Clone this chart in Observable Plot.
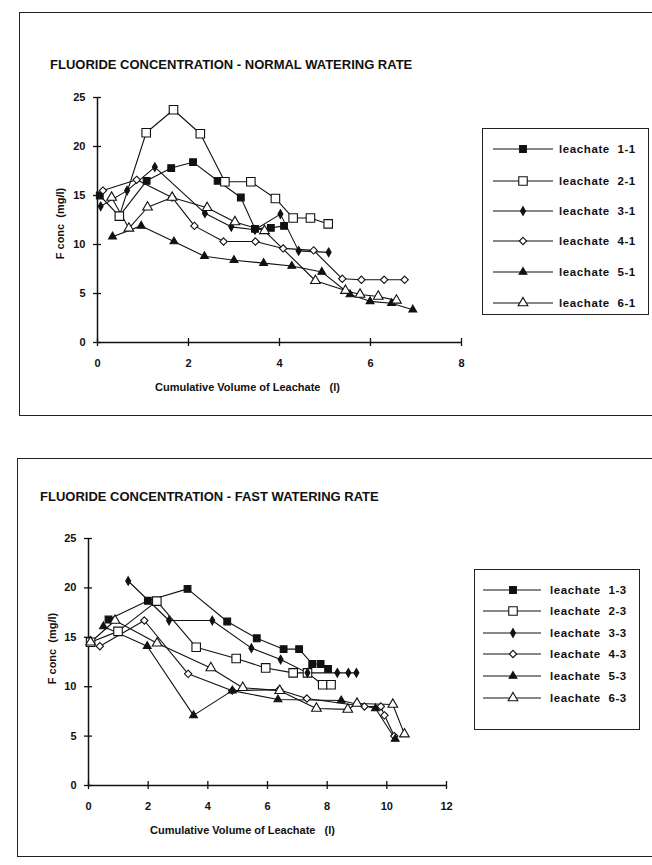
<!DOCTYPE html>
<html><head><meta charset="utf-8">
<script src="https://cdn.jsdelivr.net/npm/d3@7"></script>
<script src="https://cdn.jsdelivr.net/npm/@observablehq/plot@0.6"></script>
<style>
body{margin:0;background:#fff;}
#page{position:relative;width:652px;height:865px;overflow:hidden;font-family:"Liberation Sans",Arial,Helvetica,sans-serif;font-weight:bold;color:#111;}
.frame{position:absolute;border:1.3px solid #222;border-right:none;}
.title{position:absolute;font-size:13px;white-space:nowrap;line-height:1;}
.lab{position:absolute;font-size:11px;white-space:pre;line-height:1;}
.legend{position:absolute;border:1.3px solid #222;background:#fff;}
.chart{position:absolute;left:0;top:0;}
</style></head><body><div id="page"></div>
<script>
// ---------- DATA: normal watering rate ----------
const normalNames = ["leachate  1-1","leachate  2-1","leachate  3-1","leachate  4-1","leachate  5-1","leachate  6-1"];
const n11x = [0.05,0.48,1.08,1.62,2.10,2.64,3.15,3.46,3.81,4.10];
const n11y = [15.0,12.9,16.5,17.8,18.4,16.5,14.8,11.6,11.7,11.9];
const n21x = [0.48,1.07,1.67,2.26,2.80,3.37,3.91,4.30,4.68,5.07];
const n21y = [12.9,21.4,23.75,21.3,16.4,16.4,14.7,12.7,12.7,12.1];
const n31x = [0.07,0.65,1.26,2.36,2.94,3.46,4.02,4.42,5.08];
const n31y = [13.9,15.5,17.9,13.2,11.8,11.5,13.1,9.35,9.2];
const n41x = [0.12,0.86,1.64,2.13,2.77,3.47,4.08,4.75,5.38,5.80,6.30,6.75];
const n41y = [15.5,16.6,14.8,11.9,10.3,10.3,9.6,9.4,6.5,6.4,6.4,6.4];
const n51x = [0.33,0.96,1.68,2.35,3.00,3.65,4.27,4.93,5.55,5.99,6.46,6.93];
const n51y = [10.8,11.9,10.3,8.8,8.4,8.1,7.8,7.2,4.9,4.2,4.0,3.35];
const n61x = [0.31,0.69,1.10,1.64,2.41,3.02,3.67,4.79,5.45,5.77,6.17,6.57];
const n61y = [14.8,11.65,13.8,14.8,13.75,12.3,11.4,6.3,5.3,4.9,4.7,4.3];
const normalXTicks = [0,2,4,6,8];
const normalYTicks = [0,5,10,15,20,25];

// ---------- DATA: fast watering rate ----------
const fastNames = ["leachate  1-3","leachate  2-3","leachate  3-3","leachate  4-3","leachate  5-3","leachate  6-3"];
const f13x = [0.67,1.99,3.32,4.65,5.64,6.54,7.06,7.50,7.78,8.03];
const f13y = [16.8,18.7,19.9,16.6,14.9,13.8,13.8,12.3,12.3,11.8];
const f23x = [0.07,0.99,2.29,3.61,4.95,5.94,6.86,7.34,7.85,8.13];
const f23y = [14.5,15.6,18.66,14.0,12.85,11.9,11.4,11.4,10.2,10.2];
const f33x = [1.33,2.70,4.15,5.46,6.44,7.34,8.34,8.71,8.98];
const f33y = [20.7,16.7,16.7,13.9,12.75,11.4,11.4,11.4,11.4];
const f43x = [0.38,1.87,3.34,4.82,6.39,7.32,9.25,9.80,9.92,10.25];
const f43y = [14.1,16.7,11.3,9.6,9.7,8.8,8.0,8.0,7.1,5.0];
const f53x = [0.50,1.97,3.52,4.82,6.35,8.47,9.62,10.28];
const f53y = [16.1,14.1,7.1,9.6,8.7,8.6,7.8,4.7];
const f63x = [0.07,0.89,2.30,4.10,5.17,6.41,7.64,8.69,9.00,10.20,10.59];
const f63y = [14.5,16.7,14.4,11.9,9.9,9.6,7.8,7.7,8.3,8.2,5.2];
const fastXTicks = [0,2,4,6,8,10,12];
const fastYTicks = [0,5,10,15,20,25];

// ---------- marker styles (per series position) ----------
const markerStyles = [
  {symbol:"square",  r:3.8, fill:"#111"},
  {symbol:"square",  r:4.8, fill:"#fff"},
  {symbol:"diamond", r:2.6, fill:"#111"},
  {symbol:"diamond2",r:3.3, fill:"#fff"},
  {symbol:"triangle",r:2.9, fill:"#111"},
  {symbol:"triangle",r:3.6, fill:"#fff"}
];

function rowsOf(name, xs, ys){ return xs.map((x,i)=>({series:name, x, y:ys[i]})); }

const normalSeries = [[n11x,n11y],[n21x,n21y],[n31x,n31y],[n41x,n41y],[n51x,n51y],[n61x,n61y]]
  .map((p,i)=>({name:normalNames[i], rows:rowsOf(normalNames[i],p[0],p[1]), ...markerStyles[i]}));
const fastSeries = [[f13x,f13y],[f23x,f23y],[f33x,f33y],[f43x,f43y],[f53x,f53y],[f63x,f63y]]
  .map((p,i)=>({name:fastNames[i], rows:rowsOf(fastNames[i],p[0],p[1]), ...markerStyles[i]}));

const page = document.getElementById("page");
function el(cls, css, text){
  const d = document.createElement("div"); d.className = cls;
  Object.assign(d.style, css); if (text!=null) d.textContent = text;
  page.appendChild(d); return d;
}

function makeChart(c){
  const marks = [];
  c.series.forEach(s => marks.push(Plot.line(s.rows, {x:"x", y:"y", stroke:"#111", strokeWidth:1.1})));
  marks.push(Plot.ruleY([0], {stroke:"#111", strokeWidth:1.5}));
  marks.push(Plot.ruleX([0], {stroke:"#111", strokeWidth:1.5}));
  marks.push(Plot.axisX({ticks:c.xTicks, tickSize:8, dy:-4, tickPadding:13, stroke:"#111", strokeWidth:1.3}));
  marks.push(Plot.axisY({ticks:c.yTicks, tickSize:8, dx:4, tickPadding:8, stroke:"#111", strokeWidth:1.3}));
  c.series.forEach(s => marks.push(Plot.dot(s.rows, {x:"x", y:"y", symbol:s.symbol, r:s.r, fill:s.fill, stroke:"#111", strokeWidth:1.1})));
  const svg = Plot.plot({
    width:652, height:c.height,
    marginLeft:c.left, marginRight:652-c.right, marginTop:c.top, marginBottom:c.height-c.bottom,
    x:{domain:c.xDomain, label:null},
    y:{domain:[0,25], label:null},
    style:{fontFamily:'"Liberation Sans",Arial,sans-serif', fontSize:"11px", fontWeight:"bold", background:"transparent", color:"#111", overflow:"visible"},
    marks
  });
  svg.classList.add("chart");
  svg.style.top = c.offsetTop + "px";
  page.appendChild(svg);
}

function makeLegend(series, box, rowY, lineX1, lineX2, markX, textX){
  const lg = el("legend", {left:box.left+"px", top:box.top+"px", width:box.width+"px", height:box.height+"px"});
  series.forEach((s,i)=>{
    const svg = d3.create("svg").attr("width", box.width).attr("height", 16)
      .style("position","absolute").style("left","0px").style("top",(rowY[i]-8)+"px");
    svg.append("line").attr("x1",lineX1).attr("x2",lineX2).attr("y1",8).attr("y2",8).attr("stroke","#111").attr("stroke-width",1.1);
    const symMap = {square:d3.symbolSquare, diamond:d3.symbolDiamond, diamond2:d3.symbolDiamond2, triangle:d3.symbolTriangle};
    svg.append("path").attr("d", d3.symbol(symMap[s.symbol], Math.PI*s.r*s.r)())
      .attr("transform",`translate(${markX},8)`).attr("fill",s.fill).attr("stroke","#111").attr("stroke-width",1.1);
    svg.append("text").attr("x",textX).attr("y",12).text(s.name)
      .style("font-family",'"Liberation Sans",Arial,sans-serif').style("font-size","11.5px").style("font-weight","bold")
      .style("letter-spacing","0.6px").style("white-space","pre").attr("fill","#111");
    lg.appendChild(svg.node());
  });
}

// frames
el("frame", {left:"19px", top:"12px", width:"640px", height:"402px"});
el("frame", {left:"17px", top:"458px", width:"640px", height:"397px"});

// titles
el("title", {left:"50px", top:"58px"}, "FLUORIDE CONCENTRATION - NORMAL WATERING RATE");
el("title", {left:"40px", top:"490px"}, "FLUORIDE CONCENTRATION - FAST WATERING RATE");

// charts
makeChart({series:normalSeries, xTicks:normalXTicks, yTicks:normalYTicks, xDomain:[0,8],
  height:415, left:97, right:461, top:97, bottom:342, offsetTop:0});
makeChart({series:fastSeries, xTicks:fastXTicks, yTicks:fastYTicks, xDomain:[0,12],
  height:420, left:88, right:446, top:98, bottom:345, offsetTop:440});

// axis labels
el("lab", {left:"20px", top:"218px", transform:"rotate(-90deg)", width:"80px", textAlign:"center"}, "F conc  (mg/l)");
el("lab", {left:"12px", top:"643px", transform:"rotate(-90deg)", width:"80px", textAlign:"center"}, "F conc  (mg/l)");
el("lab", {left:"155px", top:"382px"}, "Cumulative Volume of Leachate   (l)");
el("lab", {left:"150px", top:"825px"}, "Cumulative Volume of Leachate   (l)");

// legends
makeLegend(normalSeries, {left:482, top:128, width:165, height:185}, [20,52,82,112,143,174], 10, 70, 40, 76);
makeLegend(fastSeries, {left:474, top:569, width:164, height:159}, [20,41,63,84,106,128], 8, 66, 38, 75);
</script></body></html>
